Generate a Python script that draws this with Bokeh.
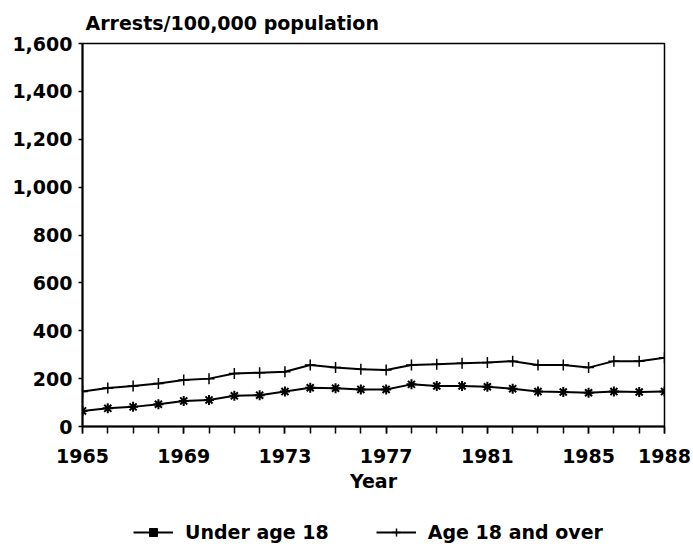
from bokeh.plotting import figure
from bokeh.layouts import column
from bokeh.models import Range1d, FixedTicker, NumeralTickFormatter, Legend, LegendItem
from bokeh.embed import file_html
from bokeh.resources import INLINE

years = list(range(1965, 1989))
under18 = [65, 76, 82, 93, 107, 111, 128, 131, 146, 162, 160, 155,
           155, 176, 169, 169, 166, 158, 146, 144, 141, 146, 144, 146]
over18 = [146, 161, 169, 180, 194, 200, 221, 225, 229, 257, 246, 239,
          236, 257, 260, 264, 267, 273, 257, 257, 246, 273, 273, 287]
x_tick_labels = [1965, 1969, 1973, 1977, 1981, 1985, 1988]
y_ticks = [0, 200, 400, 600, 800, 1000, 1200, 1400, 1600]

FONT = "DejaVu Sans"
FS = "19px"

p = figure(width=693, height=510, output_backend="svg", toolbar_location=None,
           x_range=Range1d(1965, 1988), y_range=Range1d(0, 1600),
           min_border_left=82, min_border_right=29, min_border_top=43, min_border_bottom=84)
p.background_fill_color = "white"
p.border_fill_color = "white"
p.outline_line_color = "black"
p.outline_line_width = 1.5
p.grid.visible = False

p.title.text = "Arrests/100,000 population"
p.title.align = "left"
p.title.offset = 3
p.title.standoff = 19
p.title.text_font = FONT
p.title.text_font_size = FS
p.title.text_font_style = "bold"
p.title.text_color = "black"

p.xaxis.ticker = FixedTicker(ticks=x_tick_labels, minor_ticks=years)
p.yaxis.ticker = FixedTicker(ticks=y_ticks, minor_ticks=[])
p.yaxis.formatter = NumeralTickFormatter(format="0,0")
p.xaxis.axis_label = "Year"
for ax in (p.xaxis[0], p.yaxis[0]):
    ax.axis_line_color = "black"
    ax.axis_line_width = 2
    ax.major_tick_line_color = "black"
    ax.minor_tick_line_color = "black"
    ax.major_tick_line_width = 1.5
    ax.minor_tick_line_width = 1.5
    ax.major_tick_in = 0
    ax.minor_tick_in = 0
    ax.major_label_text_font = FONT
    ax.major_label_text_font_size = FS
    ax.major_label_text_font_style = "bold"
    ax.major_label_text_color = "black"
    ax.axis_label_text_font = FONT
    ax.axis_label_text_font_size = FS
    ax.axis_label_text_font_style = "bold"
    ax.axis_label_text_color = "black"
p.xaxis.major_tick_out = 7
p.xaxis.minor_tick_out = 7
p.yaxis.major_tick_out = 4
p.xaxis.major_label_standoff = 15
p.yaxis.major_label_standoff = 6
p.xaxis.axis_label_standoff = 4

p.line(years, under18, line_color="black", line_width=2)
p.scatter(years, under18, marker="asterisk", size=10, line_color="black", line_width=2)
p.line(years, over18, line_color="black", line_width=2)
p.scatter(years, over18, marker="cross", size=11, line_color="black", line_width=1.5)

# legend strip below the chart
q = figure(width=693, height=34, output_backend="svg", toolbar_location=None,
           x_range=Range1d(0, 1), y_range=Range1d(0, 1), min_border=0)
q.axis.visible = False
q.grid.visible = False
q.outline_line_color = None
q.background_fill_color = "white"
q.border_fill_color = "white"
ql1 = q.line(years, under18, line_color="black", line_width=2)
qm1 = q.scatter(years, under18, marker="square", size=5, fill_color="black", line_color="black")
ql2 = q.line(years, over18, line_color="black", line_width=2)
qm2 = q.scatter(years, over18, marker="cross", size=8, line_color="black", line_width=1.5)

legend = Legend(items=[LegendItem(label="Under age 18", renderers=[ql1, qm1]),
                       LegendItem(label="Age 18 and over", renderers=[ql2, qm2])],
                orientation="horizontal", location=(51, 1))
legend.border_line_color = None
legend.background_fill_alpha = 0
legend.label_text_font = FONT
legend.label_text_font_size = FS
legend.label_text_font_style = "bold"
legend.label_text_color = "black"
legend.glyph_width = 40
legend.label_standoff = 12
legend.spacing = 47
legend.margin = 0
legend.padding = 0
q.add_layout(legend, "center")

layout = column(p, q, spacing=0)
open("out.html", "w").write(file_html(layout, INLINE))
